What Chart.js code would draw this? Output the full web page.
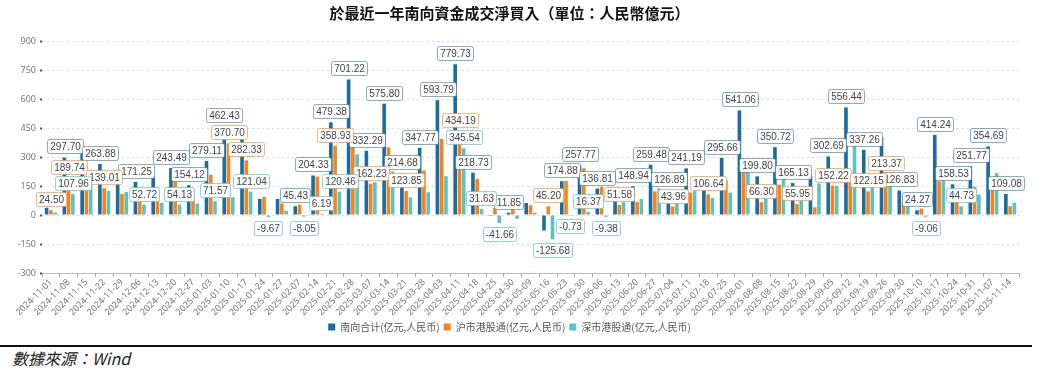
<!DOCTYPE html>
<html>
<head>
<meta charset="utf-8">
<script src="https://cdn.jsdelivr.net/npm/chart.js@4.4.1/dist/chart.umd.min.js"></script>
<style>
  html, body { margin: 0; padding: 0; background: #fff; }
  #wrap { position: relative; width: 1049px; height: 371px; overflow: hidden; }
  #box { position: absolute; left: 0; top: 0; width: 1049px; height: 344px; }
  #rule { position: absolute; left: 0; top: 345px; width: 1032px; height: 2px; background: #111; }
  #source { position: absolute; left: 12px; top: 346px; font: italic 16px 'Noto Sans CJK TC', 'Liberation Serif', serif; color: #222; }
</style>
</head>
<body>
<div id="wrap">
  <div id="box"><canvas id="flowChart"></canvas></div>
  <div id="rule"></div>
  <div id="source">數據來源：Wind</div>
</div>
<script>
const dates = ['2024-11-01','2024-11-08','2024-11-15','2024-11-22','2024-11-29','2024-12-06','2024-12-13','2024-12-20','2024-12-27',
  '2025-01-03','2025-01-10','2025-01-17','2025-01-24','2025-01-27','2025-02-07','2025-02-14','2025-02-21','2025-02-28',
  '2025-03-07','2025-03-14','2025-03-21','2025-03-28','2025-04-03','2025-04-11','2025-04-18','2025-04-25','2025-04-30',
  '2025-05-09','2025-05-16','2025-05-23','2025-05-30','2025-06-06','2025-06-13','2025-06-20','2025-06-27',
  '2025-07-04','2025-07-11','2025-07-18','2025-07-25','2025-08-01','2025-08-08','2025-08-15','2025-08-22','2025-08-29',
  '2025-09-05','2025-09-12','2025-09-19','2025-09-26','2025-09-30','2025-10-10','2025-10-17','2025-10-24','2025-10-31',
  '2025-11-07','2025-11-14'];

// 南向合计
const total = [37.5, 297.70, 331, 263.88, 228, 171.25, 199, 243.49, 154.12, 279.11, 462.43, 403.37, 83.3, 83, 45.43,
  204.33, 479.38, 701.22, 332.29, 575.80, 214.68, 347.77, 593.79, 779.73, 218.73, -4.66, 11.85, 62, -80.48, 174.88,
  257.77, 136.81, 117.58, 148.94, 259.48, 126.89, 241.19, 194.64, 295.66, 541.06, 199.80, 350.72, 165.13, 203, 302.69,
  556.44, 337.26, 402, 126.83, 24.27, 414.24, 158.53, 251.77, 354.69, 109.08];
// 沪市港股通
const shanghai = [24.50, 189.74, 183, 139.01, 109, 118.53, 136, 189.36, 95, 207.54, 370.70, 282.33, 93, 60, 53.48,
  198.14, 358.93, 387, 162.23, 350, 123.85, 230, 393, 434.19, 187.1, 37, 32, 50, 45.20, 175.61,
  241.40, 146.19, 51.58, 67, 122, 43.96, 116, 106.64, 180, 268, 66.30, 157, 55.95, 40, 152.22,
  176, 122.15, 213.37, 63, 33.33, 174, 113.8, 146, 137.69, 45.5];
// 深市港股通
const shenzhen = [13, 107.96, 148, 124.87, 119, 52.72, 63, 54.13, 59.12, 71.57, 91.73, 121.04, -9.67, 23, -8.05,
  6.19, 120.46, 314.22, 170.06, 225.8, 90.83, 117.77, 200.79, 345.54, 31.63, -41.66, -20.15, 12, -125.68, -0.73,
  16.37, -9.38, 66, 81.94, 137.48, 82.93, 125.19, 88, 115.66, 273.06, 133.5, 193.72, 109.18, 163, 150.47,
  380.44, 215.11, 188.63, 63.83, -9.06, 240.24, 44.73, 105.77, 217, 63.58];

// which bars carry a value box
const totalShow = [1,3,5,7,8,9,10,14,15,16,17,18,19,20,21,22,23,24,26,29,30,31,33,34,35,36,38,39,40,41,42,44,45,46,48,49,50,51,52,53,54];
const shShow = [0,1,3,10,11,16,18,20,23,28,32,35,37,40,42,44,46,47];
const szShow = [1,5,7,9,11,12,14,15,16,23,24,25,28,29,30,31,49,51];

const yTicks = [-300, -150, 0, 150, 300, 450, 600, 750, 900];

const blue = '#1b6ca1', orange = '#f7841a', teal = '#5dc3c2';
const labelBorders = ['rgba(27,108,161,0.55)', 'rgba(247,132,26,0.6)', 'rgba(93,195,194,0.7)'];
const showLists = [totalShow, shShow, szShow];

// boxed value labels
const valueBoxes = {
    id: 'valueBoxes',
    afterDatasetsDraw(chart) {
        const ctx = chart.ctx;
        ctx.save();
        ctx.font = '10px "Liberation Sans", Arial, sans-serif';
        ctx.textAlign = 'center';
        ctx.textBaseline = 'middle';
        chart.data.datasets.forEach((ds, d) => {
            const meta = chart.getDatasetMeta(d);
            showLists[d].forEach(i => {
                const bar = meta.data[i];
                const v = ds.data[i];
                const txt = v.toFixed(2);
                const w = ctx.measureText(txt).width + 5;
                const h = 14;
                let top;
                if (v >= 0) top = bar.y - 4 - h;
                else top = bar.y + 4;
                const left = bar.x - w / 2;
                ctx.fillStyle = '#fff';
                ctx.strokeStyle = labelBorders[d];
                ctx.lineWidth = 1;
                ctx.beginPath();
                ctx.roundRect(Math.round(left) + 0.5, Math.round(top) + 0.5, Math.round(w), h, 2);
                ctx.fill();
                ctx.stroke();
                ctx.fillStyle = '#444';
                ctx.fillText(txt, Math.round(left) + Math.round(w) / 2 + 0.5, Math.round(top) + h / 2 + 1);
            });
        });
        ctx.restore();
    }
};

const ctx = document.getElementById('flowChart').getContext('2d');
new Chart(ctx, {
    type: 'bar',
    data: {
        labels: dates,
        datasets: [
            { label: '南向合计(亿元,人民币)', data: total, backgroundColor: blue },
            { label: '沪市港股通(亿元,人民币)', data: shanghai, backgroundColor: orange },
            { label: '深市港股通(亿元,人民币)', data: shenzhen, backgroundColor: teal }
        ]
    },
    options: {
        responsive: true,
        maintainAspectRatio: false,
        animation: false,
        datasets: {
            bar: { categoryPercentage: 0.72, barPercentage: 0.85 }
        },
        layout: { padding: { top: 4, right: 30, left: 0, bottom: 2 } },
        plugins: {
            title: {
                display: true,
                text: '於最近一年南向資金成交淨買入（單位：人民幣億元）',
                color: '#111',
                font: { family: '"Noto Sans CJK TC", sans-serif', size: 15, weight: 'bold' },
                padding: { top: 0, bottom: 19 }
            },
            legend: {
                position: 'bottom',
                labels: {
                    boxWidth: 7,
                    boxHeight: 7,
                    padding: 4,
                    color: '#555',
                    font: { family: '"Noto Sans CJK SC", sans-serif', size: 10 }
                }
            },
            tooltip: { enabled: false }
        },
        scales: {
            x: {
                grid: { offset: true, drawOnChartArea: false, tickLength: 4, color: '#aaa' },
                border: { color: '#bbb' },
                ticks: {
                    autoSkip: false,
                    maxRotation: 45,
                    minRotation: 45,
                    color: '#777',
                    padding: 0,
                    font: { family: '"Noto Sans", sans-serif', size: 9 }
                },
                afterFit: (scale) => { scale.height = 45; }
            },
            y: {
                min: -300,
                max: 900,
                afterBuildTicks: (scale) => { scale.ticks = yTicks.map(v => ({ value: v })); },
                grid: { color: '#dcdcdc', tickColor: '#555', tickLength: 2, tickWidth: 2 },
                border: { display: false, dash: [2, 3] },
                ticks: {
                    color: '#777',
                    padding: 4,
                    font: { family: '"Noto Sans", sans-serif', size: 9 }
                },
                afterFit: (scale) => { scale.width = 42; }
            }
        }
    },
    plugins: [valueBoxes]
});
</script>
</body>
</html>
